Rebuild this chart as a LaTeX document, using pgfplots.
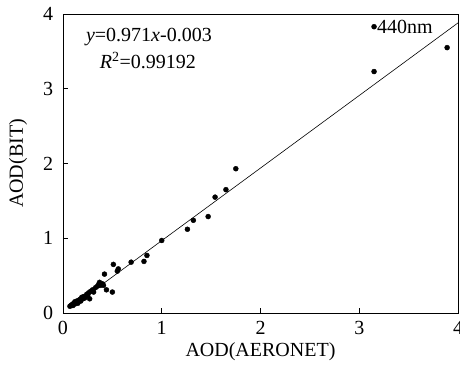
\documentclass[border=0pt]{standalone}
\usepackage{pgfplots}
\pgfplotsset{compat=1.18}
\usepackage{fontspec}
\setmainfont{Liberation Serif}
\begin{document}
\fontsize{20bp}{24bp}\selectfont
\begin{tikzpicture}
\begin{axis}[
  name=ax,
  scale only axis,
  width=395bp, height=299bp,
  xmin=0, xmax=4, ymin=0, ymax=4,
  xtick={0,1,2,3,4}, ytick={0,1,2,3,4},
  tick align=inside,
  xtick pos=left, ytick pos=left,
  major tick length=5bp,
  axis line style={line width=0.9bp},
  tick style={line width=0.8bp, black},
  /pgf/number format/assume math mode=true,
  ticklabel style={font=\fontsize{20bp}{24bp}\selectfont},
  label style={font=\fontsize{20bp}{24bp}\selectfont},
  xlabel={AOD(AERONET)},
  ylabel={AOD(BIT)},
  xlabel style={at={(axis description cs:0.5,0)}, anchor=center, yshift=-39bp},
  ylabel style={at={(axis description cs:0,0.5)}, anchor=center, yshift=45bp},
  xticklabel style={yshift=-1bp},
  yticklabel style={xshift=-3bp},
  clip=false,
]
\addplot[black, line width=0.6bp] coordinates {(0.07,0.065) (4,3.881)};
\addplot[only marks, mark=*, mark size=2.5bp, black] coordinates {
(0.07,0.09)(0.08,0.10)(0.09,0.11)(0.10,0.10)(0.10,0.12)(0.11,0.13)(0.12,0.12)
(0.12,0.15)(0.13,0.14)(0.14,0.16)(0.15,0.13)(0.16,0.17)(0.17,0.18)(0.18,0.16)
(0.19,0.21)(0.20,0.19)(0.21,0.22)(0.22,0.20)(0.24,0.25)(0.25,0.23)(0.26,0.27)
(0.27,0.19)(0.28,0.29)(0.30,0.31)(0.31,0.28)(0.33,0.34)(0.35,0.36)(0.36,0.38)
(0.37,0.41)(0.38,0.37)(0.40,0.39)(0.41,0.37)(0.42,0.52)(0.44,0.31)(0.50,0.28)
(0.51,0.65)(0.55,0.56)(0.56,0.59)(0.69,0.68)(0.82,0.69)(0.85,0.77)(1.00,0.97)
(1.26,1.12)(1.32,1.24)(1.47,1.29)(1.54,1.55)(1.65,1.65)(1.75,1.93)
(3.15,3.23)(3.89,3.55)(3.15,3.83)
};
\node[anchor=center] at (axis cs:0.87,3.69) {\textit{y}=0.971\textit{x}-0.003};
\node[anchor=center] at (axis cs:0.86,3.38) {\textit{R}\textsuperscript{2}=0.99192};
\node[anchor=west, inner sep=0pt] at (axis cs:3.18,3.83) {440nm};
\end{axis}
\pgfresetboundingbox
\path ([xshift=-63bp,yshift=-54bp]ax.south west) rectangle ([xshift=2bp,yshift=14bp]ax.north east);
\end{tikzpicture}
\end{document}
